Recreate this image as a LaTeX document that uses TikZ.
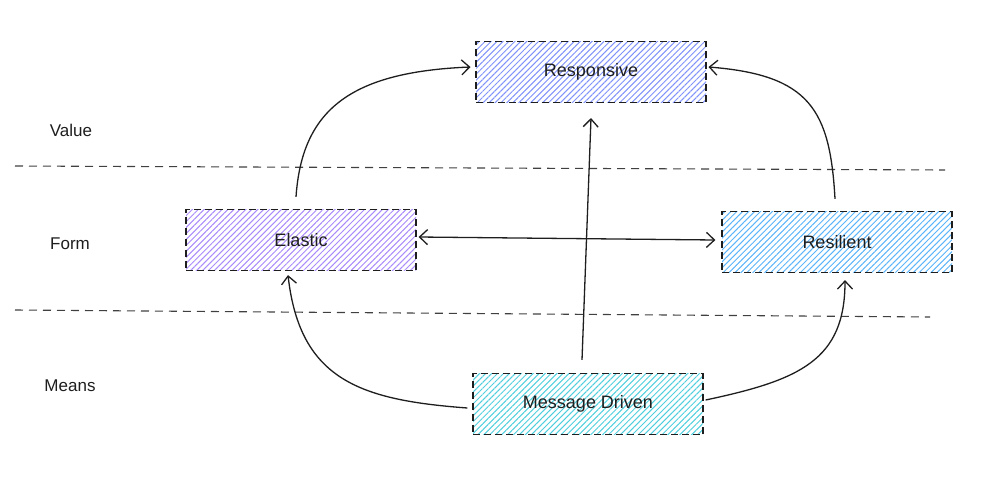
\documentclass[tikz,border=0pt]{standalone}
\usepackage{fontspec}
\setmainfont{Liberation Sans}
\usetikzlibrary{arrows.meta,patterns.meta}
\definecolor{ink}{HTML}{1E1E1E}
\definecolor{cResp}{HTML}{7F92FA}
\definecolor{cElas}{HTML}{A98AFA}
\definecolor{cResi}{HTML}{5CB4FA}
\definecolor{cMsg}{HTML}{4FCFDE}
\tikzset{
  box/.style={draw=ink, line width=1.2pt, dash pattern=on 7pt off 4pt,
    minimum width=230pt, minimum height=61pt, inner sep=0pt,
    font=\fontsize{18}{21}\selectfont, text=ink},
  hatch/.style={pattern={Lines[angle=45,distance=4.2pt,line width=1pt]}, pattern color=#1},
  conn/.style={draw=ink, line width=1.3pt, -{Straight Barb[length=8pt,width=15pt,line width=1.3pt]}},
  both/.style={draw=ink, line width=1.3pt, {Straight Barb[length=8pt,width=15pt,line width=1.3pt]}-{Straight Barb[length=8pt,width=15pt,line width=1.3pt]}},
  sep/.style={draw=ink!85, line width=1.1pt, dash pattern=on 8pt off 6pt},
  lbl/.style={font=\fontsize{17}{20}\selectfont, text=ink}
}
\begin{document}
\begin{tikzpicture}[x=1pt,y=-1pt]
\useasboundingbox (0,0) rectangle (981,479);
% separators
\coordinate (s1a) at (15,166); \coordinate (s1b) at (945,170);
\coordinate (s2a) at (15,310); \coordinate (s2b) at (930,317);
\draw[sep] (s1a) -- (s1b);
\draw[sep] (s2a) -- (s2b);
% labels
\node[lbl] (value) at (71,130) {Value};
\node[lbl] (form) at (70,244) {Form};
\node[lbl] (means) at (70,386) {Means};
% boxes
\node[box, hatch=cResp] (resp) at (591,72) {Responsive};
\node[box, hatch=cElas] (elas) at (301,240) {Elastic};
\node[box, hatch=cResi] (resi) at (837,242) {Resilient};
\node[box, hatch=cMsg] (msg) at (588,404) {Message Driven};
% connectors
\draw[conn] ([xshift=-5pt,yshift=12pt]elas.north) .. controls (302,110) and (350,72) .. ([xshift=-5pt,yshift=5pt]resp.west);
\draw[conn] ([xshift=-2pt,yshift=12pt]resi.north) .. controls (830,110) and (810,75) .. ([xshift=2pt,yshift=5pt]resp.east);
\draw[both] ([xshift=2pt,yshift=3pt]elas.east) -- ([xshift=-6pt,yshift=2pt]resi.west);
\draw[conn] ([xshift=-6pt,yshift=13pt]msg.north) -- ([yshift=-15pt]resp.south);
\draw[conn] ([xshift=-5pt,yshift=-4pt]msg.west) .. controls (360,400) and (300,380) .. ([xshift=-13pt,yshift=-4pt]elas.south);
\draw[conn] ([xshift=2pt,yshift=4pt]msg.east) .. controls (800,380) and (845,360) .. ([xshift=8pt,yshift=-7pt]resi.south);
\end{tikzpicture}
\end{document}
